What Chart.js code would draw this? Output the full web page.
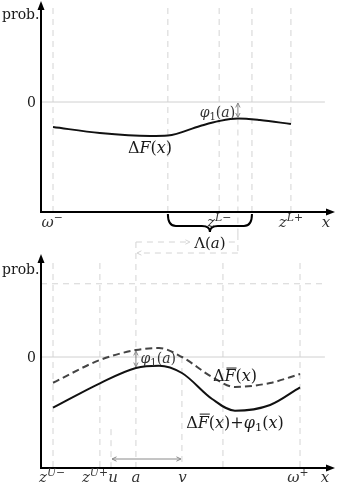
<!DOCTYPE html>
<html lang="en">
<head>
<meta charset="UTF-8" />
<title>Delta F diagram</title>
<script src="https://cdn.jsdelivr.net/npm/chart.js"></script>
<style>
  body { margin: 0; background: #fff; }
  #wrap { position: relative; width: 337px; height: 485px; }
  canvas { position: absolute; left: 0; }
  #topChart { top: 0; }
  #bottomChart { top: 234px; }
</style>
</head>
<body>
<div id="wrap">
  <canvas id="topChart" width="337" height="234"></canvas>
  <canvas id="bottomChart" width="337" height="251"></canvas>
</div>
<script>
// ---- upper panel: ΔF(x)
const topX = [0.41, 2.01, 3.72, 4.33, 5.43, 6.08, 6.72, 7.47, 8.53];
const topY = [-0.227, -0.282, -0.309, -0.305, -0.218, -0.173, -0.15, -0.164, -0.2];
const topGuides = [0.41, 4.33, 6.08, 7.2, 8.53];
const braceFrom = 4.33, braceTo = 7.2;
const aTop = 6.72; // where φ1(a) is read in the upper panel
const topTickX = [0.38, 6.08, 8.53, 9.73];
const topTickLabels = [
  [["ω", "i"], ["−", "^"]],
  [["z", "i"], ["L", "i^"], ["−", "^"]],
  [["z", "i"], ["L", "i^"], ["+", "^"]],
  [["x", "i"]]
];

// ---- lower panel: ΔF̄(x) and ΔF̄(x) + φ1(x)
const botX = [0.41, 2.01, 3.24, 4.03, 4.81, 5.84, 6.62, 7.82, 8.84];
const barY = [-0.232, -0.027, 0.063, 0.081, 0.0, -0.18, -0.27, -0.234, -0.153];
const sumY = [-0.457, -0.237, -0.099, -0.078, -0.144, -0.378, -0.484, -0.432, -0.273];
const botGuides = [0.41, 2.01, 6.21, 8.84];
const aBot = 3.24, uBot = 2.39, vBot = 4.81;
const upperLevel = 0.66;
const botTickX = [0.38, 1.84, 2.46, 3.24, 4.83, 8.77, 9.69];
const botTickLabels = [
  [["z", "i"], ["U", "i^"], ["−", "^"]],
  [["z", "i"], ["U", "i^"], ["+", "^"]],
  [["u", "i"]],
  [["a", "i"]],
  [["v", "i"]],
  [["ω", "i"], ["+", "^"]],
  [["x", "i"]]
];

const FONT = '"DejaVu Serif", "Liberation Serif", serif';
const GUIDE = "#d4d4d4";
const ARROW = "#8a8a8a";

// draws a small math string; parts are [text, style], style: i italic, b overbar, ^ superscript, _ subscript
function mtext(ctx, parts, x, y, size, align) {
  const segs = parts.map(([t, s]) => {
    const small = s.includes("^") || s.includes("_");
    const sz = small ? size * 0.72 : size;
    const font = (s.includes("i") ? "italic " : "") + sz + "px " + FONT;
    ctx.font = font;
    return { t, s, sz, font, w: ctx.measureText(t).width };
  });
  const total = segs.reduce((a, g) => a + g.w, 0);
  let cx = align === "left" ? x : align === "right" ? x - total : x - total / 2;
  const base = y + size * 0.35;
  ctx.textBaseline = "alphabetic";
  ctx.textAlign = "left";
  segs.forEach((g) => {
    let yy = base;
    if (g.s.includes("^")) yy = base - size * 0.45;
    if (g.s.includes("_")) yy = base + size * 0.2;
    ctx.font = g.font;
    ctx.fillText(g.t, cx, yy);
    if (g.s.includes("b")) {
      ctx.save();
      ctx.lineWidth = 1;
      ctx.strokeStyle = ctx.fillStyle;
      ctx.beginPath();
      ctx.moveTo(cx + 2, base - size * 0.84);
      ctx.lineTo(cx + g.w + 1, base - size * 0.84);
      ctx.stroke();
      ctx.restore();
    }
    cx += g.w;
  });
}

function head(ctx, x, y, ang, len, half) {
  ctx.beginPath();
  ctx.moveTo(x, y);
  ctx.lineTo(x - len * Math.cos(ang) + half * Math.sin(ang), y - len * Math.sin(ang) - half * Math.cos(ang));
  ctx.lineTo(x - len * Math.cos(ang) - half * Math.sin(ang), y - len * Math.sin(ang) + half * Math.cos(ang));
  ctx.closePath();
  ctx.fill();
}

function thinHead(ctx, x, y, ang) {
  const l = 5, a = 0.45;
  ctx.beginPath();
  ctx.moveTo(x - l * Math.cos(ang - a), y - l * Math.sin(ang - a));
  ctx.lineTo(x, y);
  ctx.lineTo(x - l * Math.cos(ang + a), y - l * Math.sin(ang + a));
  ctx.stroke();
}

function gArrow(ctx, x1, y1, x2, y2, both) {
  ctx.save();
  ctx.strokeStyle = ARROW;
  ctx.lineWidth = 1;
  ctx.beginPath();
  ctx.moveTo(x1, y1);
  ctx.lineTo(x2, y2);
  ctx.stroke();
  const ang = Math.atan2(y2 - y1, x2 - x1);
  thinHead(ctx, x2, y2, ang);
  if (both) thinHead(ctx, x1, y1, ang + Math.PI);
  ctx.restore();
}

function dashed(ctx, x1, y1, x2, y2, color) {
  ctx.save();
  ctx.strokeStyle = color || GUIDE;
  ctx.lineWidth = 1;
  ctx.setLineDash([6, 5]);
  ctx.beginPath();
  ctx.moveTo(x1, y1);
  ctx.lineTo(x2, y2);
  ctx.stroke();
  ctx.restore();
}

function axes(ctx, area) {
  ctx.save();
  ctx.strokeStyle = "#000";
  ctx.fillStyle = "#000";
  ctx.lineWidth = 2;
  ctx.beginPath();
  ctx.moveTo(area.left, area.bottom);
  ctx.lineTo(area.left, area.top - 1);
  ctx.moveTo(area.left - 1, area.bottom);
  ctx.lineTo(area.right - 3, area.bottom);
  ctx.stroke();
  head(ctx, area.left, area.top - 4, -Math.PI / 2, 9, 3.5);
  head(ctx, area.right + 1, area.bottom, 0, 9, 3.5);
  ctx.restore();
}

function zeroLine(ctx, xs, ys, area) {
  ctx.save();
  ctx.strokeStyle = "#d0d0d0";
  ctx.lineWidth = 1;
  ctx.beginPath();
  ctx.moveTo(area.left, ys.getPixelForValue(0));
  ctx.lineTo(xs.getPixelForValue(9.69), ys.getPixelForValue(0));
  ctx.stroke();
  ctx.restore();
}

function pts(xs, ys) {
  return xs.map((x, i) => ({ x: x, y: ys[i] }));
}

const topPlugin = {
  id: "topDecor",
  beforeDatasetsDraw(chart) {
    const { ctx, chartArea: area, scales: { x, y } } = chart;
    topGuides.forEach((v) => dashed(ctx, x.getPixelForValue(v), area.top + 3, x.getPixelForValue(v), area.bottom));
    dashed(ctx, x.getPixelForValue(aTop), y.getPixelForValue(-0.15), x.getPixelForValue(aTop), chart.height);
    zeroLine(ctx, x, y, area);
  },
  afterDatasetsDraw(chart) {
    const { ctx, chartArea: area, scales: { x, y } } = chart;
    axes(ctx, area);
    gArrow(ctx, x.getPixelForValue(aTop), y.getPixelForValue(0) + 1, x.getPixelForValue(aTop), y.getPixelForValue(-0.15) - 1, true);

    // brace under Λ(a)
    const x1 = x.getPixelForValue(braceFrom), x2 = x.getPixelForValue(braceTo);
    const xc = (x1 + x2) / 2, y0 = area.bottom + 2, ym = area.bottom + 14, yt = area.bottom + 20, r = 8;
    ctx.save();
    ctx.strokeStyle = "#000";
    ctx.lineWidth = 2;
    ctx.beginPath();
    ctx.moveTo(x1, y0);
    ctx.quadraticCurveTo(x1, ym, x1 + r, ym);
    ctx.lineTo(xc - r, ym);
    ctx.quadraticCurveTo(xc, ym, xc, yt);
    ctx.quadraticCurveTo(xc, ym, xc + r, ym);
    ctx.lineTo(x2 - r, ym);
    ctx.quadraticCurveTo(x2, ym, x2, y0);
    ctx.stroke();
    ctx.restore();

    ctx.save();
    ctx.fillStyle = "#1a1a1a";
    ctx.font = "14px " + FONT;
    ctx.textAlign = "left";
    ctx.textBaseline = "alphabetic";
    ctx.fillText("prob.", 2, 19);
    mtext(ctx, [["0", ""]], area.left - 5, y.getPixelForValue(0), 14, "right");
    mtext(ctx, [["Δ", ""], ["F", "i"], ["(", ""], ["x", "i"], [")", ""]], x.getPixelForValue(3.72), y.getPixelForValue(-0.41), 16, "center");
    ctx.fillStyle = "#333";
    mtext(ctx, [["φ", "i"], ["1", "_"], ["(", ""], ["a", "i"], [")", ""]], x.getPixelForValue(6.02), y.getPixelForValue(-0.09), 14, "center");
    topTickX.forEach((v, i) => mtext(ctx, topTickLabels[i], x.getPixelForValue(v), area.bottom + 10, 15, "center"));
    ctx.restore();
  }
};

const botPlugin = {
  id: "botDecor",
  beforeDatasetsDraw(chart) {
    const { ctx, chartArea: area, scales: { x, y } } = chart;
    botGuides.forEach((v) => dashed(ctx, x.getPixelForValue(v), area.top + 5, x.getPixelForValue(v), area.bottom));
    dashed(ctx, x.getPixelForValue(aBot), 8, x.getPixelForValue(aBot), area.bottom);
    dashed(ctx, x.getPixelForValue(uBot), y.getPixelForValue(-0.65), x.getPixelForValue(uBot), area.bottom);
    dashed(ctx, x.getPixelForValue(vBot), y.getPixelForValue(0), x.getPixelForValue(vBot), area.bottom);
    dashed(ctx, area.left, y.getPixelForValue(upperLevel), x.getPixelForValue(9.76), y.getPixelForValue(upperLevel));
    zeroLine(ctx, x, y, area);

    // dashed box linking a to Λ(a)
    const xa = x.getPixelForValue(aBot), xr = x.getPixelForValue(aTop);
    dashed(ctx, xr, 0, xr, 19);
    dashed(ctx, xa, 8, xa + 52, 8);
    dashed(ctx, xr - 9, 8, xr, 8);
    dashed(ctx, xr, 19, xa + 2, 19);
    ctx.save();
    ctx.strokeStyle = GUIDE;
    ctx.lineWidth = 1;
    thinHead(ctx, xa + 54, 8, 0);
    thinHead(ctx, xa + 1, 19, Math.PI);
    ctx.restore();
  },
  afterDatasetsDraw(chart) {
    const { ctx, chartArea: area, scales: { x, y } } = chart;
    axes(ctx, area);
    const xa = x.getPixelForValue(aBot);
    gArrow(ctx, xa, y.getPixelForValue(0.063) + 1, xa, y.getPixelForValue(-0.099) - 1, true);
    gArrow(ctx, x.getPixelForValue(uBot) + 1, y.getPixelForValue(-0.919), x.getPixelForValue(vBot) - 1, y.getPixelForValue(-0.919), true);

    ctx.save();
    ctx.fillStyle = "#1a1a1a";
    ctx.font = "14px " + FONT;
    ctx.textAlign = "left";
    ctx.textBaseline = "alphabetic";
    ctx.fillText("prob.", 2, 40);
    mtext(ctx, [["Λ", ""], ["(", ""], ["a", "i"], [")", ""]], (x.getPixelForValue(braceFrom) + x.getPixelForValue(braceTo)) / 2, 9, 15, "center");
    mtext(ctx, [["0", ""]], area.left - 5, y.getPixelForValue(0), 14, "right");
    mtext(ctx, [["Δ", ""], ["F", "ib"], ["(", ""], ["x", "i"], [")", ""]], x.getPixelForValue(6.62), y.getPixelForValue(-0.17), 16, "center");
    mtext(ctx, [["Δ", ""], ["F", "ib"], ["(", ""], ["x", "i"], [")", ""], ["+", ""], ["φ", "i"], ["1", "_"], ["(", ""], ["x", "i"], [")", ""]], x.getPixelForValue(6.62), y.getPixelForValue(-0.585), 16, "center");
    ctx.fillStyle = "#333";
    mtext(ctx, [["φ", "i"], ["1", "_"], ["(", ""], ["a", "i"], [")", ""]], x.getPixelForValue(4.0), y.getPixelForValue(-0.01), 14, "center");
    botTickX.forEach((v, i) => mtext(ctx, botTickLabels[i], x.getPixelForValue(v), area.bottom + 9, 15, "center"));
    ctx.restore();
  }
};

function baseOptions(pad, yMax) {
  return {
    responsive: false,
    animation: false,
    layout: { padding: pad },
    plugins: { legend: { display: false }, tooltip: { enabled: false } },
    elements: { point: { radius: 0 } },
    scales: {
      x: { type: "linear", min: 0, max: 10, display: false },
      y: { type: "linear", min: -1, max: yMax, display: false }
    }
  };
}

new Chart(document.getElementById("topChart"), {
  type: "line",
  data: {
    datasets: [{
      data: pts(topX, topY),
      borderColor: "#111",
      borderWidth: 2,
      cubicInterpolationMode: "monotone"
    }]
  },
  options: baseOptions({ left: 41, right: 3, top: 5, bottom: 22 }, 0.882),
  plugins: [topPlugin]
});

new Chart(document.getElementById("bottomChart"), {
  type: "line",
  data: {
    datasets: [
      {
        data: pts(botX, barY),
        borderColor: "#444",
        borderWidth: 2,
        borderDash: [7, 4],
        cubicInterpolationMode: "monotone"
      },
      {
        data: pts(botX, sumY),
        borderColor: "#111",
        borderWidth: 2,
        cubicInterpolationMode: "monotone"
      }
    ]
  },
  options: baseOptions({ left: 41, right: 3, top: 24, bottom: 17 }, 0.892),
  plugins: [botPlugin]
});
</script>
</body>
</html>
